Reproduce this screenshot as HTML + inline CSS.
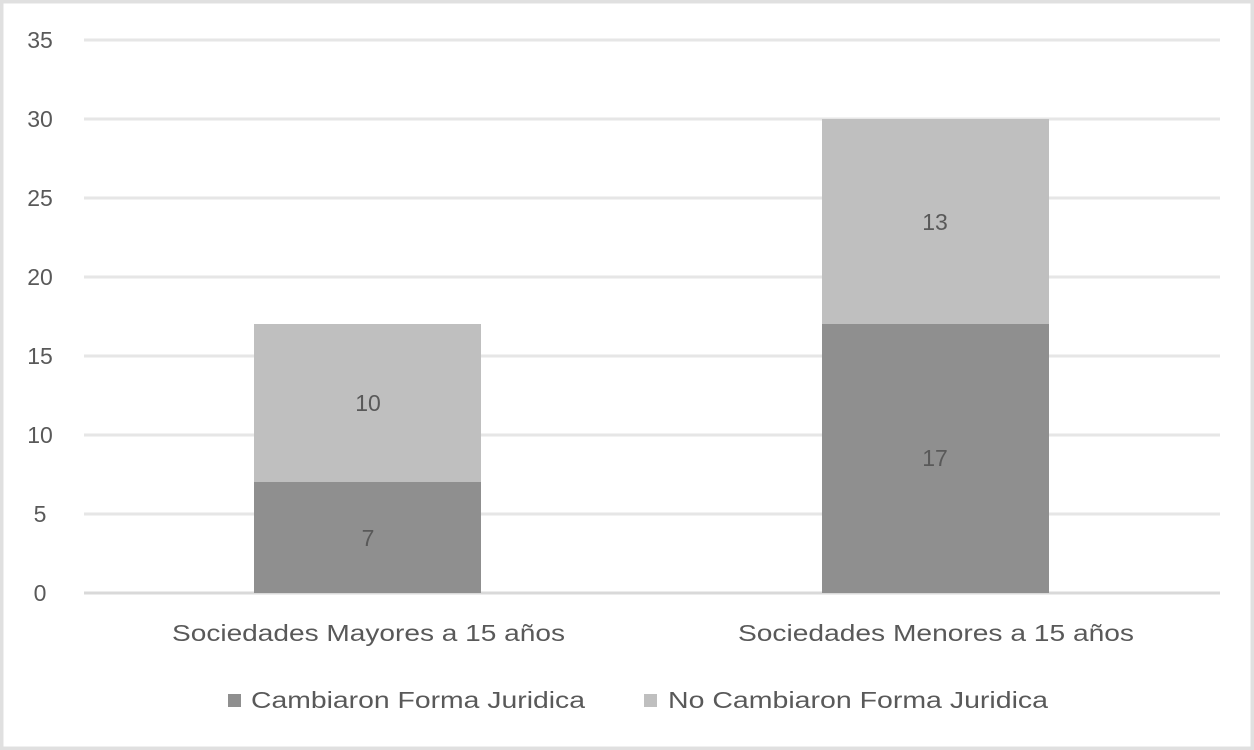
<!DOCTYPE html><html><head><style>body{margin:0}svg{display:block}text{font-family:"Liberation Sans",sans-serif;fill:#595959}</style></head><body>
<svg width="1254" height="750" xmlns="http://www.w3.org/2000/svg">
<rect x="0" y="0" width="1254" height="750" fill="#fff"/>
<rect x="1.5" y="1.5" width="1251" height="747" fill="none" stroke="#e0e0e0" stroke-width="4"/>
<g stroke="#e6e6e6" stroke-width="3">
<line x1="84" x2="1220" y1="40" y2="40"/><line x1="84" x2="1220" y1="119" y2="119"/>
<line x1="84" x2="1220" y1="198" y2="198"/><line x1="84" x2="1220" y1="277" y2="277"/>
<line x1="84" x2="1220" y1="356" y2="356"/><line x1="84" x2="1220" y1="435" y2="435"/>
<line x1="84" x2="1220" y1="514" y2="514"/><line x1="84" x2="1220" y1="593" y2="593" stroke="#d9d9d9"/>
</g>
<g font-size="23" text-anchor="middle">
<text x="40" y="48">35</text><text x="40" y="127">30</text><text x="40" y="206">25</text><text x="40" y="285">20</text>
<text x="40" y="364">15</text><text x="40" y="443">10</text><text x="40" y="522">5</text><text x="40" y="601">0</text>
</g>
<rect x="254" y="482" width="227" height="111" fill="#8f8f8f"/>
<rect x="254" y="324" width="227" height="158" fill="#bfbfbf"/>
<rect x="822" y="324" width="227" height="269" fill="#8f8f8f"/>
<rect x="822" y="119" width="227" height="205" fill="#bfbfbf"/>
<g font-size="23" text-anchor="middle" style="fill:#333">
<text x="368" y="546">7</text><text x="368" y="411">10</text>
<text x="935" y="466">17</text><text x="935" y="230">13</text>
</g>
<g font-size="23">
<text x="172" y="641" textLength="393" lengthAdjust="spacingAndGlyphs">Sociedades Mayores a 15 años</text>
<text x="738" y="641" textLength="396" lengthAdjust="spacingAndGlyphs">Sociedades Menores a 15 años</text>
</g>
<rect x="228" y="694" width="13" height="13" fill="#8f8f8f"/>
<text x="251" y="708" font-size="23" textLength="334" lengthAdjust="spacingAndGlyphs">Cambiaron Forma Juridica</text>
<rect x="644" y="694" width="13" height="13" fill="#bfbfbf"/>
<text x="668" y="708" font-size="23" textLength="380" lengthAdjust="spacingAndGlyphs">No Cambiaron Forma Juridica</text>
</svg></body></html>
